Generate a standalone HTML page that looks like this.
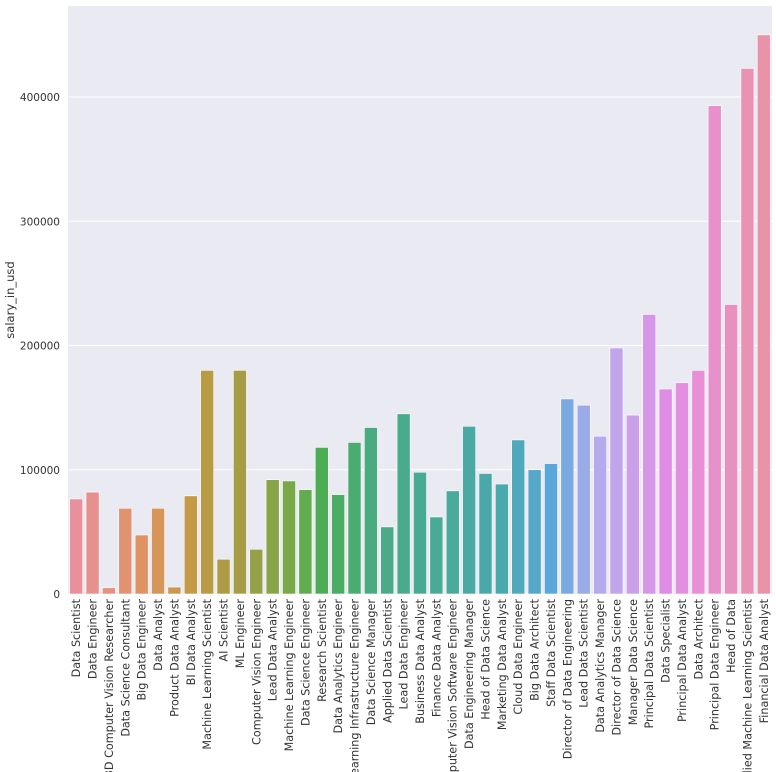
<!DOCTYPE html>
<html><head><meta charset="utf-8"><style>
body{margin:0;background:#fff;overflow:hidden}
svg{display:block;font-family:"DejaVu Sans","Liberation Sans",sans-serif}
</style></head><body>
<svg id="chart" width="776" height="772"></svg>
<script>
const categories=["Data Scientist","Data Engineer","3D Computer Vision Researcher","Data Science Consultant","Big Data Engineer","Data Analyst","Product Data Analyst","BI Data Analyst","Machine Learning Scientist","AI Scientist","ML Engineer","Computer Vision Engineer","Lead Data Analyst","Machine Learning Engineer","Data Science Engineer","Research Scientist","Data Analytics Engineer","Machine Learning Infrastructure Engineer","Data Science Manager","Applied Data Scientist","Lead Data Engineer","Business Data Analyst","Finance Data Analyst","Computer Vision Software Engineer","Data Engineering Manager","Head of Data Science","Marketing Data Analyst","Cloud Data Engineer","Big Data Architect","Staff Data Scientist","Director of Data Engineering","Lead Data Scientist","Data Analytics Manager","Director of Data Science","Manager Data Science","Principal Data Scientist","Data Specialist","Principal Data Analyst","Data Architect","Principal Data Engineer","Head of Data","Applied Machine Learning Scientist","Financial Data Analyst"];
const salaries=[76500,82000,5000,69000,47500,69000,5600,79000,180000,28000,180000,36000,92000,91000,84000,118000,80000,122000,134000,54000,145000,98000,62000,83000,135000,97000,88500,124000,100000,105000,157000,152000,127000,198000,144000,225000,165000,170000,180000,393000,233000,423000,450000];
const yTicks=[0,100000,200000,300000,400000];
const yMax=473240;
const svg=document.getElementById('chart');
const NS='http://www.w3.org/2000/svg';
const L=68,R=772,T=6,B=594;
const slot=(R-L)/categories.length;
const xPos=i=>L+slot*i;
const yPos=v=>B-(v/yMax)*(B-T);
function mk(tag,attrs){const e=document.createElementNS(NS,tag);for(const k in attrs)e.setAttribute(k,attrs[k]);svg.appendChild(e);return e;}
const bg=mk('rect',{x:L,y:T,width:R-L,height:B-T,fill:'#eaeaf2'});


yTicks.forEach(t=>{
  const g=mk('line',{x1:L,x2:R,y1:yPos(t),y2:yPos(t),stroke:'#fff','stroke-width':1});
  
  
  const tx=mk('text',{x:L-8,y:yPos(t)+4,'text-anchor':'end','font-size':'10.5',fill:'#333'});
  tx.textContent=String(t);
  
  
});
const colorKeys=[[0,[232,144,156]],[4,[223,146,99]],[7,[196,154,69]],[10,[165,156,69]],[13,[120,168,71]],[15,[76,173,85]],[18,[74,171,128]],[22,[73,170,152]],[26,[74,169,173]],[29,[90,167,217]],[31,[154,171,232]],[32,[180,170,236]],[34,[203,160,232]],[36,[224,140,230]],[38,[232,143,216]],[42,[232,147,168]]];
function color(i){for(let k=0;k<colorKeys.length-1;k++){const a=colorKeys[k],b=colorKeys[k+1];if(i<=b[0]){const f=(i-a[0])/(b[0]-a[0]);const c=a[1].map((v,j)=>Math.round(v+(b[1][j]-v)*f));return `rgb(${c.join(',')})`;}}return 'rgb(232,147,168)';}
categories.forEach((c,i)=>{
  const bw=slot*0.8,x=xPos(i)+slot*0.1,y=yPos(salaries[i]);
  const r=mk('rect',{x:x,y:y,width:bw,height:B-y,fill:color(i),stroke:'#fff','stroke-width':0.6});
  
  
  const cx=xPos(i)+slot/2+4;
  const t=mk('text',{x:cx,y:B+5,'text-anchor':'end','font-size':'11.2',fill:'#333',transform:`rotate(-90 ${cx} ${B+5})`});
  t.textContent=c;
  
  
});
const yt=mk('text',{x:14,y:300,'text-anchor':'middle','font-size':'11.5',fill:'#333',transform:'rotate(-90 14 300)'});
yt.textContent='salary_in_usd';


</script>
</body></html>
